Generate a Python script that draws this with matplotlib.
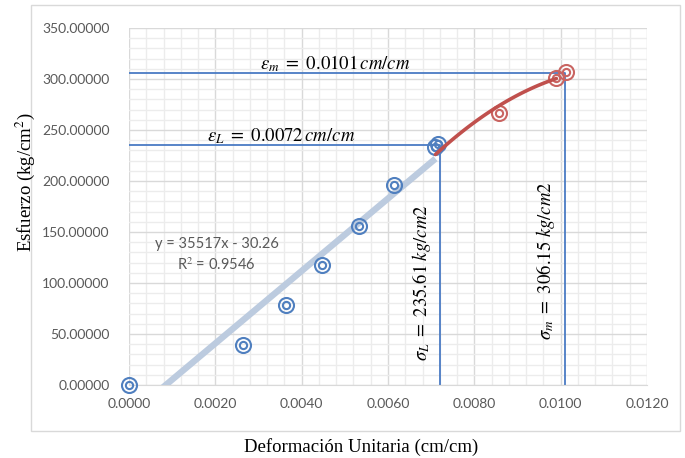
import numpy as np
import matplotlib.pyplot as plt
from matplotlib.ticker import MultipleLocator, FormatStrFormatter
from matplotlib.patches import Rectangle

# ensayo de compresion: deformacion unitaria (cm/cm) vs esfuerzo (kg/cm2)
strain_elastic = [0.0, 0.00264, 0.00364, 0.00447, 0.00532, 0.00615, 0.00708, 0.00715]
stress_elastic = [0.0, 39.0, 78.0, 117.5, 156.0, 196.0, 233.0, 236.0]
strain_plastic = [0.00856, 0.00990, 0.01012]
stress_plastic = [266.3, 300.6, 307.0]

# linea de tendencia lineal y = 35517x - 30.26
lin_slope, lin_intercept = 35517, -30.26
lin_range = [0.0, 0.0071]
# tendencia polinomica del tramo plastico (a x^2 + b x + c)
poly_coef = [-4.424e6, 101814, -273.9]
poly_range = [0.0071, 0.0099]

eps_L, sig_L = 0.0072, 235.61
eps_m, sig_m = 0.0101, 306.15

blue = '#4f7fbf'
red = '#c0504d'
ref_blue = '#4a7bc4'
tick_grey = '#595959'

plt.rcParams['mathtext.fontset'] = 'stix'

fig = plt.figure(figsize=(6.85, 4.58), dpi=100)
fig.patches.append(Rectangle((31 / 685, 1 - 431 / 458), 649 / 685, 426 / 458,
                             transform=fig.transFigure, fill=False,
                             edgecolor='#d9d9d9', linewidth=1.0))
ax = fig.add_axes([129 / 685, 1 - 385 / 458, 518 / 685, 357 / 458])

ax.set_xlim(0, 0.012)
ax.set_ylim(0, 350)
ax.xaxis.set_major_locator(MultipleLocator(0.002))
ax.xaxis.set_minor_locator(MultipleLocator(0.0004))
ax.yaxis.set_major_locator(MultipleLocator(50))
ax.yaxis.set_minor_locator(MultipleLocator(10))
ax.xaxis.set_major_formatter(FormatStrFormatter('%.4f'))
ax.yaxis.set_major_formatter(FormatStrFormatter('%.5f'))
ax.grid(which='major', color='#d9d9d9', linewidth=1.0)
ax.grid(which='minor', color='#ececec', linewidth=1.0)
ax.set_axisbelow(True)
for side in ['top', 'right', 'left']:
    ax.spines[side].set_visible(False)
ax.spines['bottom'].set_color('#d9d9d9')
ax.tick_params(which='both', length=0)
ax.tick_params(axis='x', pad=9, labelsize=10, labelcolor=tick_grey)
ax.tick_params(axis='y', pad=14, labelsize=10, labelcolor=tick_grey)
for lbl in ax.get_xticklabels() + ax.get_yticklabels():
    lbl.set_family('Lato')

# lineas de referencia
ax.plot([0, eps_m, eps_m], [sig_m, sig_m, 0], color=ref_blue, lw=1.3, zorder=2)
ax.plot([0, eps_L, eps_L], [sig_L, sig_L, 0], color=ref_blue, lw=1.3, zorder=2)

# tendencias
xl = np.linspace(lin_range[0], lin_range[1], 50)
ax.plot(xl, lin_slope * xl + lin_intercept, color='#bccbdf', lw=4.6,
        solid_capstyle='butt', zorder=3)
xp = np.linspace(poly_range[0], poly_range[1], 100)
ax.plot(xp, np.polyval(poly_coef, xp), color=red, lw=2.6,
        solid_capstyle='round', zorder=5)

# puntos (circulo doble)
for xs, ys, c in [(strain_elastic, stress_elastic, blue),
                  (strain_plastic, stress_plastic, '#c96461')]:
    ax.plot(xs, ys, ls='none', marker='o', ms=10.8, mfc='none', mec=c,
            mew=1.5, clip_on=False, zorder=4)
    ax.plot(xs, ys, ls='none', marker='o', ms=5.2, mfc='none', mec=c,
            mew=1.5, clip_on=False, zorder=4)

ax.text(0.00477, 315.5, r'$\varepsilon_m\ =\ 0.0101\,cm/cm$', fontsize=13.5,
        ha='center', va='center')
ax.text(0.00352, 243.5, r'$\varepsilon_L\ =\ 0.0072\,cm/cm$', fontsize=13.5,
        ha='center', va='center')
ax.text(0.00677, 100.6, r'$\sigma_L\ =\ 235.61\ kg/cm2$', fontsize=13.5,
        ha='center', va='center', rotation=90)
ax.text(0.00964, 121.5, r'$\sigma_m\ =\ 306.15\ kg/cm2$', fontsize=13.5,
        ha='center', va='center', rotation=90)

ax.text(0.00203, 138.2, 'y = 35517x - 30.26', fontsize=10.5, family='Lato',
        color=tick_grey, ha='center', va='center')
ax.text(0.00202, 117.6, r'R$^2$ = 0.9546', fontsize=10.5, family='Lato',
        color=tick_grey, ha='center', va='center')

fig.text(361 / 685, 1 - 447 / 458, 'Deformación Unitaria (cm/cm)',
         family='Liberation Serif', fontsize=13.5, ha='center', va='center')
fig.text(25 / 685, 1 - 182 / 458, r'Esfuerzo (kg/cm$^2$)',
         family='Liberation Serif', fontsize=13.5, ha='center', va='center',
         rotation=90)

fig.savefig('out.png', dpi=100)
